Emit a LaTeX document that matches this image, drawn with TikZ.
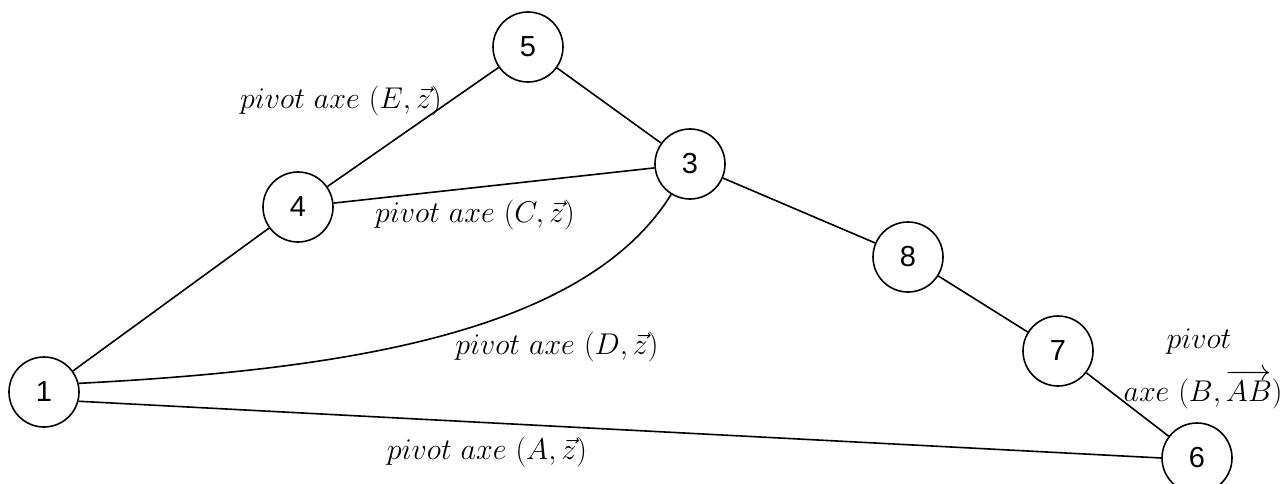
\RequirePackage{fix-cm}
\documentclass[tikz,border=0pt]{standalone}
\usepackage{fontspec}
\setsansfont{Liberation Sans}
\usepackage{amsmath}
\begin{document}
\begin{tikzpicture}[x=1pt,y=1pt,
  vertex/.style={circle,draw,line width=1.6pt,minimum size=70pt,inner sep=0pt,
    font=\sffamily\fontsize{29}{34}\selectfont},
  edge/.style={line width=1.6pt},
  lab/.style={font=\fontsize{30}{36}\selectfont,inner sep=0pt}]
\useasboundingbox (0,0) rectangle (1281,-484);
\node[vertex] (n1) at (44,-392) {1};
\node[vertex] (n4) at (298,-207) {4};
\node[vertex] (n5) at (528,-47) {5};
\node[vertex] (n3) at (690,-164) {3};
\node[vertex] (n8) at (908,-257) {8};
\node[vertex] (n7) at (1058,-351) {7};
\node[vertex] (n6) at (1197,-458) {6};
\draw[edge] (n1) -- (n4);
\draw[edge] (n4) -- (n5);
\draw[edge] (n5) -- (n3);
\draw[edge] (n4) -- (n3);
\draw[edge] (n3) -- (n8);
\draw[edge] (n8) -- (n7);
\draw[edge] (n7) -- (n6);
\draw[edge] (n1.-15) -- (n6.west);
\draw[edge] (n1.14) .. controls (337,-370) and (584,-335) .. (n3);
\node[lab] (le) at (341,-101) {$pivot\ axe\ (E,\vec{z})$};
\node[lab] (lc) at (475,-215) {$pivot\ axe\ (C,\vec{z})$};
\node[lab] (ld) at (557,-347) {$pivot\ axe\ (D,\vec{z})$};
\node[lab] (la) at (487,-452) {$pivot\ axe\ (A,\vec{z})$};
\node[lab,anchor=base] (lb1) at (1199,-348) {$pivot$};
\node[lab,anchor=base] (lb2) at (1203,-401) {$axe\ (B,\overrightarrow{AB})$};
\end{tikzpicture}
\end{document}
